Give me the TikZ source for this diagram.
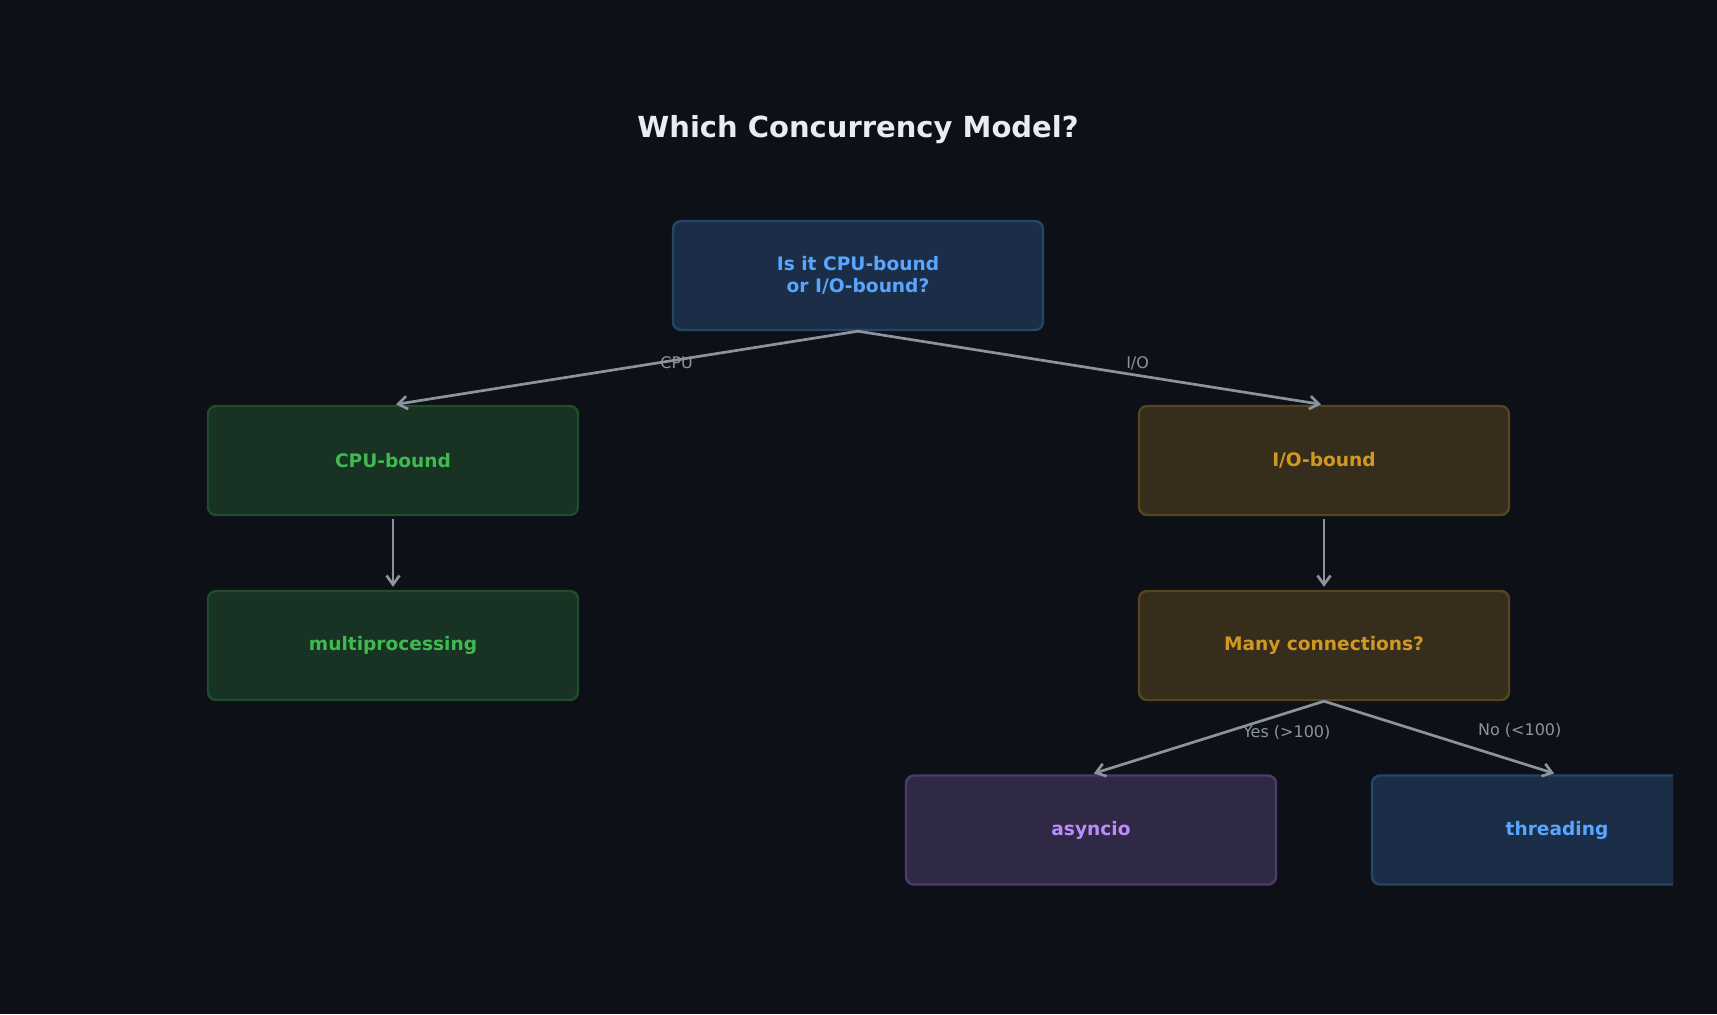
\documentclass[tikz,border=0pt]{standalone}
\usepackage{fontspec}
\setmainfont{DejaVu Sans}
\usetikzlibrary{arrows.meta}
\definecolor{bgdark}{HTML}{0D1117}
\definecolor{titlefg}{HTML}{E6EDF3}
\definecolor{edgegray}{HTML}{8B949E}
\definecolor{bluefg}{HTML}{58A6FF}
\definecolor{bluefill}{HTML}{1C2E47}
\definecolor{blueline}{HTML}{264668}
\definecolor{greenfg}{HTML}{3FB950}
\definecolor{greenfill}{HTML}{183223}
\definecolor{greenline}{HTML}{204C2C}
\definecolor{amberfg}{HTML}{D29922}
\definecolor{amberfill}{HTML}{362D1C}
\definecolor{amberline}{HTML}{564420}
\definecolor{purplefg}{HTML}{BC8CFF}
\definecolor{purplefill}{HTML}{302946}
\definecolor{purpleline}{HTML}{4C3C6A}

\begin{document}
\begin{tikzpicture}[x=0.5pt, y=-0.5pt,
  box/.style={draw, rounded corners=4pt, line width=1.2pt, minimum width=185pt,
    minimum height=54.5pt, align=center, font=\fontsize{9.3}{11}\selectfont\bfseries},
  bluebox/.style={box, fill=bluefill, draw=blueline, text=bluefg},
  greenbox/.style={box, fill=greenfill, draw=greenline, text=greenfg},
  amberbox/.style={box, fill=amberfill, draw=amberline, text=amberfg},
  purplebox/.style={box, fill=purplefill, draw=purpleline, text=purplefg},
  link/.style={draw=edgegray, line width=1.35pt, -{Straight Barb[length=4.5pt,width=6.5pt]}, shorten >=1.5pt},
  tag/.style={text=edgegray, font=\fontsize{8}{9.6}\selectfont}]
  \fill[bgdark] (0,0) rectangle (1717,1014);
  \useasboundingbox (0,0) rectangle (1717,1014);

  \node[text=titlefg, font=\fontsize{14.5}{17}\selectfont\bfseries] (title) at (858,130) {Which Concurrency Model?};

  \begin{scope}
    \clip (0,0) rectangle (1673,1014);
    \node[bluebox] (root) at (858,275.5) {Is it CPU-bound\\or I/O-bound?};
    \node[greenbox] (cpu) at (393,460.5) {CPU-bound};
    \node[greenbox] (mp) at (393,645.5) {multiprocessing};
    \node[amberbox] (io) at (1324,460.5) {I/O-bound};
    \node[amberbox] (many) at (1324,645.5) {Many connections?};
    \node[purplebox] (aio) at (1091,830) {asyncio};
    \node[bluebox] (thr) at (1557,830) {threading};

    % edges
    \draw[link] (root.south) -- node[tag, pos=0.39, yshift=-1.5pt] {CPU} (cpu.north);
    \draw[link] (root.south) -- node[tag, pos=0.6, yshift=6pt] {I/O} (io.north);
    \draw[link, shorten <=1.5pt] (cpu) -- (mp);
    \draw[link, shorten <=1.5pt] (io) -- (many);
    \draw[link] (many.south) -- node[tag, pos=0.16, yshift=-10pt] {Yes (>100)} (aio.north);
    \draw[link] (many.south) -- node[tag, pos=0.84, yshift=16pt] {No (<100)} (thr.north);
  \end{scope}
\end{tikzpicture}
\end{document}
